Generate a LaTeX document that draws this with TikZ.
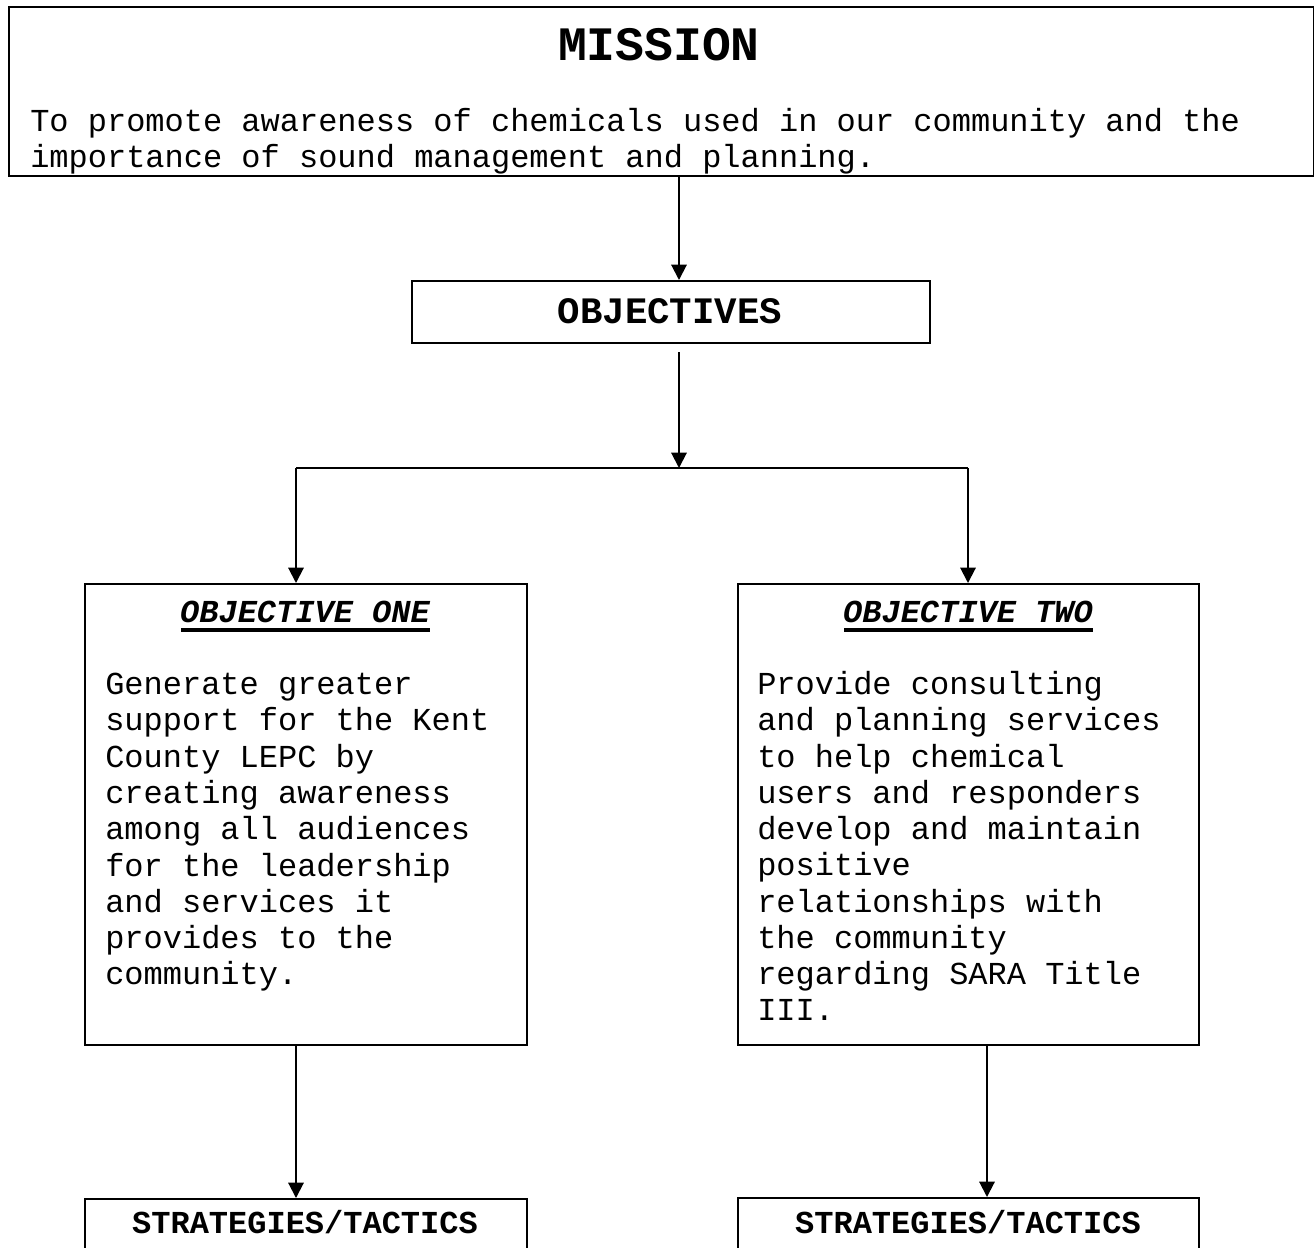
\documentclass[tikz,border=0pt]{standalone}
\usepackage{fontspec}
\setmainfont{Liberation Mono}
\usetikzlibrary{arrows.meta}
\newcommand{\scle}[0] {0.75pt}

\begin{document}
\begin{tikzpicture}[x=\scle, y=-\scle,
        box/.style={draw=black, line width=1.5pt, anchor=north west, inner sep=0pt},
        txt/.style={anchor=north west, align=left, inner sep=0pt, font=\fontsize{24}{27.2}\selectfont},
        head/.style={inner sep=0pt, font=\bfseries\fontsize{24}{27.2}\selectfont},
        uline/.style={line width=2.6pt, shorten <=1pt},
        arr/.style={-{Triangle[width=11.5pt,length=11.5pt]}, line width=1.5pt},
        ln/.style={-, line width=1.5pt}]
        \useasboundingbox (0,0) rectangle (1314,1247);
        \clip (0,0) rectangle (1314,1247);
        %mission and its text
        \node[box, minimum width=1305*\scle, minimum height=169*\scle] (mission) at (8,6) {};
        \node[head, font=\bfseries\fontsize{36}{40}\selectfont] (title) at (659,45) {MISSION};
        \node[txt] (mtext) at (30,108) {To promote awareness of chemicals used in our community and the\\importance of sound management and planning.};
        %objectives
        \node[box, minimum width=518*\scle, minimum height=62*\scle] (objs) at (411,280) {};
        \node[head, font=\bfseries\fontsize{28}{32}\selectfont] (objslbl) at (670,311) {OBJECTIVES};
        %objective one
        \node[box, minimum width=442*\scle, minimum height=461*\scle] (obj1) at (84,583) {};
        \node[head, font=\bfseries\itshape\fontsize{24}{27.2}\selectfont] (head1) at (305,612) {OBJECTIVE ONE};
        \node[txt] (text1) at (105,673) {Generate greater\\support for the Kent\\County LEPC by\\creating awareness\\among all audiences\\for the leadership\\and services it\\provides to the\\community.};
        %objective two
        \node[box, minimum width=461*\scle, minimum height=461*\scle] (obj2) at (737,583) {};
        \node[head, font=\bfseries\itshape\fontsize{24}{27.2}\selectfont] (head2) at (968,612) {OBJECTIVE TWO};
        \node[txt] (text2) at (757,671) {Provide consulting\\and planning services\\to help chemical\\users and responders\\develop and maintain\\positive\\relationships with\\the community\\regarding SARA Title\\III.};
        %underlines of the headings
        \draw[uline] ([yshift=-5pt]head1.south west) -- ([yshift=-5pt]head1.south east);
        \draw[uline] ([yshift=-5pt]head2.south west) -- ([yshift=-5pt]head2.south east);
        %strategies/tactics
        \node[box, minimum width=442*\scle, minimum height=200*\scle] (strat1) at (84,1198) {};
        \node[head] (slbl1) at (305,1222) {STRATEGIES/TACTICS};
        \node[box, minimum width=461*\scle, minimum height=200*\scle] (strat2) at (737,1197) {};
        \node[head] (slbl2) at (968,1222) {STRATEGIES/TACTICS};
        %branch points
        \coordinate (mid) at (679,468);
        \coordinate (left) at (296,468);
        \coordinate (right) at (968,468);
        \coordinate (rdown) at (987,1100);
        %connections between
        \draw[arr] (mission.south -| mid) -- (objs.north -| mid);
        \draw[arr, shorten <=6pt] (objs.south -| mid) -- (mid);
        \draw[ln] (left) -- (right);
        \draw[arr] (left) -- (obj1.north -| left);
        \draw[arr] (right) -- (obj2.north -| right);
        \draw[arr] (obj1.south -| left) -- (strat1.north -| left);
        \draw[arr] (obj2.south -| rdown) -- (strat2.north -| rdown);
\end{tikzpicture}
\end{document}
